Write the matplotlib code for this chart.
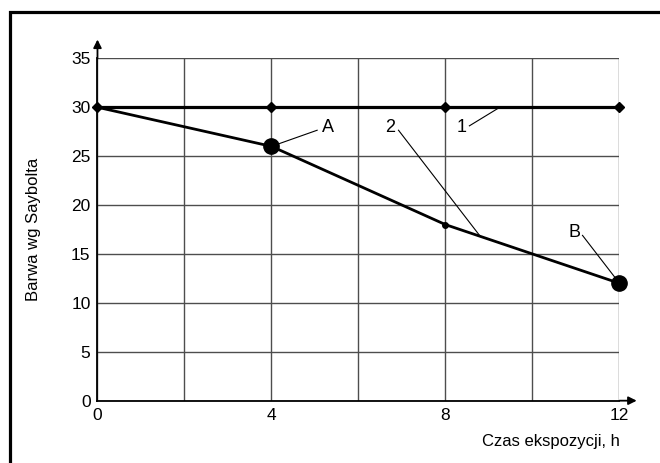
import matplotlib
matplotlib.use("Agg")
import matplotlib.pyplot as plt
from matplotlib.patches import Rectangle

plt.rcParams['font.family'] = ['Liberation Sans', 'DejaVu Sans']

# dane
czas = [0, 4, 8, 12]
seria_1 = [30, 30, 30, 30]
seria_2 = [30, 26, 18, 12]
punkty_x = [4, 12]
punkty_y = [26, 12]
x_ticks = [0, 4, 8, 12]
y_ticks = [0, 5, 10, 15, 20, 25, 30, 35]

# opisy: (tekst, pozycja tekstu, poczatek linii, koniec linii)
opisy = [
    ("A", (5.30, 27.9), (5.05, 27.65), (4.0, 26.0)),
    ("2", (6.72, 27.9), (6.92, 27.65), (8.8, 16.8)),
    ("1", (8.36, 27.9), (8.55, 28.1), (9.25, 30.0)),
    ("B", (10.96, 17.2), (11.15, 16.9), (12.0, 12.0)),
]

fig = plt.figure(figsize=(6.6, 4.63), dpi=100)
ax = fig.add_axes([0.1477, 0.1346, 0.7909, 0.7394])

ax.set_xlim(0, 12)
ax.set_ylim(0, 35)
ax.set_xticks(range(0, 13, 2))
ax.set_xticklabels(["0", "", "4", "", "8", "", "12"])
ax.set_yticks(y_ticks)
ax.tick_params(length=0, labelsize=12.5, pad=5)
ax.grid(True, color="#4d4d4d", linewidth=1.0)
ax.set_axisbelow(True)

for s in ["top", "right"]:
    ax.spines[s].set_visible(False)
for s in ["left", "bottom"]:
    ax.spines[s].set_linewidth(1.3)

# strzalki osi
ax.annotate("", xy=(0, 1.055), xytext=(0, 1.0), xycoords="axes fraction",
            arrowprops=dict(arrowstyle="-|>", color="black", lw=1.3,
                            mutation_scale=12, shrinkA=0, shrinkB=0),
            annotation_clip=False)
ax.annotate("", xy=(1.033, 0), xytext=(1.0, 0), xycoords="axes fraction",
            arrowprops=dict(arrowstyle="-|>", color="black", lw=1.3,
                            mutation_scale=12, shrinkA=0, shrinkB=0),
            annotation_clip=False)

ax.plot(czas, seria_1, color="black", linewidth=2.3, marker="D",
        markersize=5, clip_on=False, zorder=3)
ax.plot(czas, seria_2, color="black", linewidth=2.0, marker="o",
        markersize=4, clip_on=False, zorder=3)
ax.plot(punkty_x, punkty_y, "o", color="black", markersize=11,
        clip_on=False, zorder=4)

for tekst, pos, start, end in opisy:
    ax.text(pos[0], pos[1], tekst, fontsize=13, ha="center", va="center")
    ax.plot([start[0], end[0]], [start[1], end[1]], color="black",
            linewidth=0.8, zorder=3)

ax.set_ylabel("Barwa wg Saybolta", fontsize=12)
ax.yaxis.set_label_coords(-0.108, 0.5)
ax.text(1.0, -0.12, "Czas ekspozycji, h", transform=ax.transAxes,
        fontsize=12, ha="right", va="center")

# ramka
fig.patches.append(Rectangle((10 / 660, -0.1), 1.2, 1 - 12 / 463 + 0.1,
                             transform=fig.transFigure, fill=False,
                             edgecolor="black", linewidth=2.3))

fig.savefig("out.png", dpi=100)
